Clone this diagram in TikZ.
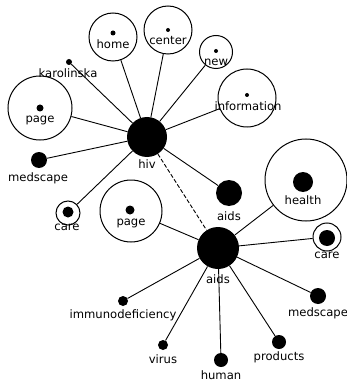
\documentclass[tikz,border=0pt]{standalone}
\usepackage{fontspec}
\setmainfont{DejaVu Sans}
\usepackage{tikz}

\begin{document}
\begin{tikzpicture}[x=1pt,y=-1pt]
        \tikzset{ring/.style={draw, circle, line width=1pt, inner sep=0pt},
        dot/.style={fill, circle, inner sep=0pt},
        term/.style={inner sep=0pt, font=\fontsize{11.6}{11.6}\selectfont},
        link/.style={line width=0.9pt},
        }
        \useasboundingbox (0,0) rectangle (347,382);
%% hubs
        \node [dot, minimum size=40pt] (hiv) at (147,137) {};
        \node [term] (hivlbl) at (147,164) {hiv};
        \node [dot, minimum size=42pt] (aids) at (218,248) {};
        \node [term] (aidslbl) at (218,279) {aids};
%% terms round hiv
        \node [ring, minimum size=48pt] (home) at (113,37) {};
        \node [dot, minimum size=5pt] (homedot) at (113,33) {};
        \node [term] (homelbl) at (113,44) {home};
        \node [ring, minimum size=48pt] (center) at (168,30) {};
        \node [dot, minimum size=4pt] (centerdot) at (168,30) {};
        \node [term] (centerlbl) at (168,41) {center};
        \node [ring, minimum size=33pt] (new) at (216,52) {};
        \node [dot, minimum size=4pt] (newdot) at (216,51) {};
        \node [term] (newlbl) at (216,62) {new};
        \node [ring, minimum size=58pt] (information) at (247,98) {};
        \node [dot, minimum size=4pt] (informationdot) at (247,95) {};
        \node [term] (informationlbl) at (248,106) {information};
        \node [dot, minimum size=6pt] (karolinska) at (69,62) {};
        \node [term] (karolinskalbl) at (68,73) {karolinska};
        \node [ring, minimum size=64pt] (pagea) at (40,108) {};
        \node [dot, minimum size=7pt] (pageadot) at (40,108) {};
        \node [term] (pagealbl) at (40,120) {page};
        \node [dot, minimum size=16pt] (medscapea) at (39,160) {};
        \node [term] (medscapealbl) at (38,178) {medscape};
        \node [ring, minimum size=24pt] (carea) at (68,213) {};
        \node [dot, minimum size=11pt] (careadot) at (68,212) {};
        \node [term] (carealbl) at (67,227) {care};
        \node [dot, minimum size=26pt] (aidsb) at (229,193) {};
        \node [term] (aidsblbl) at (229,216) {aids};
%% terms round aids
        \node [ring, minimum size=62pt] (pageb) at (131,211) {};
        \node [dot, minimum size=9pt] (pagebdot) at (130,210) {};
        \node [term] (pageblbl) at (131,223) {page};
        \node [ring, minimum size=82pt] (health) at (306,180) {};
        \node [dot, minimum size=20pt] (healthdot) at (303,182) {};
        \node [term] (healthlbl) at (303,200) {health};
        \node [ring, minimum size=28pt] (careb) at (327,237) {};
        \node [dot, minimum size=16pt] (carebdot) at (327,238) {};
        \node [term] (careblbl) at (327,255) {care};
        \node [dot, minimum size=16pt] (medscapeb) at (318,296) {};
        \node [term] (medscapeblbl) at (318,313) {medscape};
        \node [dot, minimum size=14pt] (products) at (279,342) {};
        \node [term] (productslbl) at (279,357) {products};
        \node [dot, minimum size=14pt] (human) at (221,360) {};
        \node [term] (humanlbl) at (221,375) {human};
        \node [dot, minimum size=10pt] (virus) at (163,345) {};
        \node [term] (viruslbl) at (163,359) {virus};
        \node [dot, minimum size=10pt] (immunodeficiency) at (123,301) {};
        \node [term] (immunodeficiencylbl) at (123,315) {immunodeficiency};
%% paths
        \path[draw,link] (hiv) edge (home)
                    edge (center)
                    edge (new)
                    edge (information)
                    edge (karolinska)
                    edge (pagea)
                    edge (medscapea)
                    edge (carea)
                    edge (aidsb)
                    edge[dash pattern=on 4pt off 2pt] (aids)
                    ;
        \path[draw,link] (aids) edge (pageb)
                    edge (health)
                    edge (careb)
                    edge (medscapeb)
                    edge (products)
                    edge (human)
                    edge (virus)
                    edge (immunodeficiency)
                    ;
    \end{tikzpicture}
\end{document}
